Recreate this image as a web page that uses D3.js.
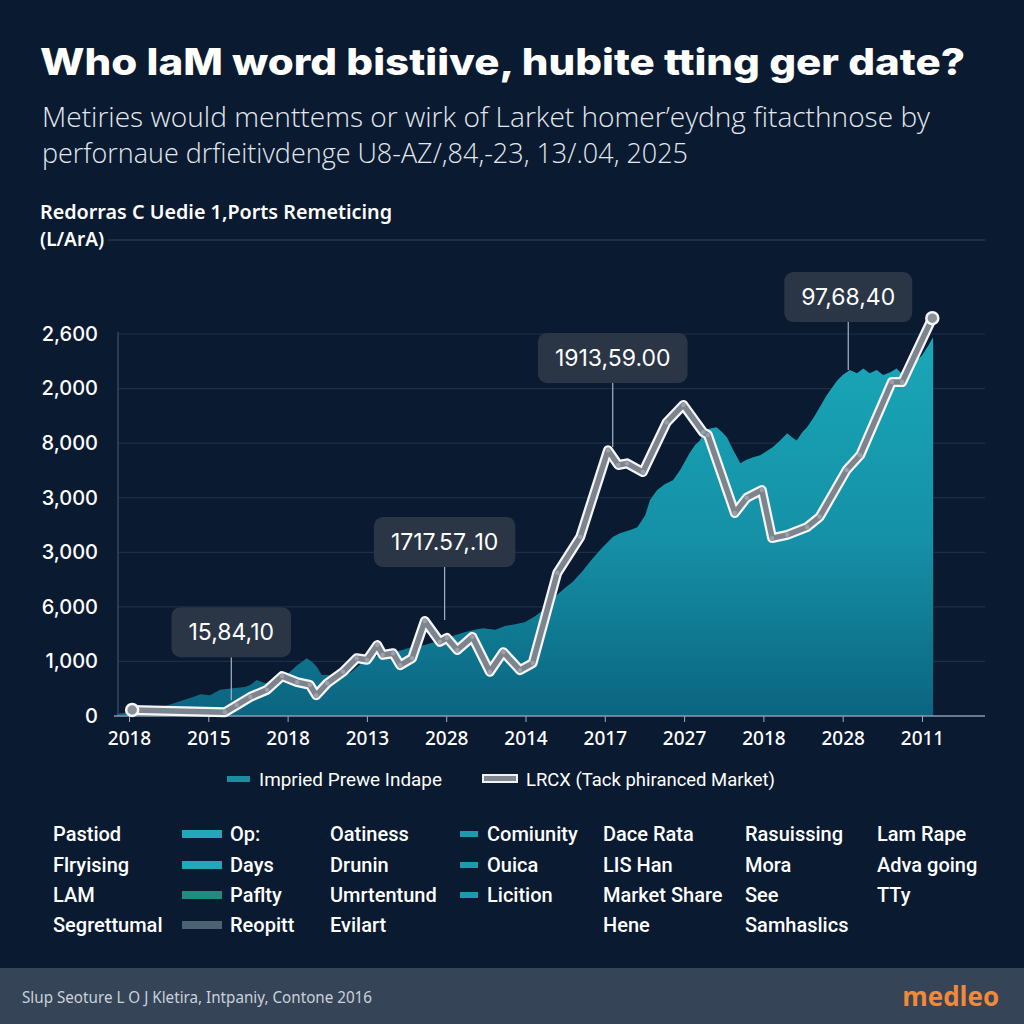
<!DOCTYPE html>
<html><head><meta charset="utf-8">
<script src="https://cdn.jsdelivr.net/npm/d3@7"></script>
<style>body{margin:0;background:#0a1a30;}svg{display:block}</style>
</head><body>
<svg id="chart" width="1024" height="1024"></svg>
<script>
// ---------------- DATA ----------------
const xTickLabels = ["2018","2015","2018","2013","2028","2014","2017","2027","2018","2028","2011"];
const yTickLabels = ["0","1,000","6,000","3,000","3,000","8,000","2,000","2,600"];

// LRCX line (x = position along the year axis, y = value in axis units)
const lineX = [0.04,1.21,1.36,1.53,1.74,1.93,2.12,2.28,2.36,2.50,2.70,2.87,3.00,3.13,3.20,3.33,3.42,3.57,3.73,3.92,4.01,4.14,4.33,4.55,4.72,4.93,5.09,5.40,5.69,6.04,6.17,6.28,6.48,6.78,6.99,7.24,7.30,7.64,7.79,7.98,8.11,8.30,8.55,8.71,9.05,9.22,9.62,9.75,10.13];
const lineY = [0.11,0.07,0.20,0.35,0.48,0.73,0.62,0.57,0.38,0.60,0.81,1.06,1.03,1.30,1.12,1.15,0.93,1.06,1.74,1.36,1.43,1.21,1.45,0.81,1.17,0.84,0.97,2.62,3.28,4.87,4.60,4.63,4.47,5.38,5.70,5.20,5.15,3.72,4.00,4.14,3.26,3.32,3.46,3.65,4.51,4.78,6.12,6.12,7.29];

// Implied Prewe Indape area
const areaX = [-0.15,0.01,0.39,0.81,0.90,1.02,1.15,1.31,1.46,1.53,1.61,1.72,1.87,1.97,2.12,2.18,2.24,2.31,2.37,2.43,2.53,2.79,2.98,3.17,3.35,3.54,3.73,3.92,4.11,4.24,4.36,4.46,4.62,4.74,4.87,4.99,5.12,5.22,5.31,5.40,5.50,5.59,5.71,5.81,5.94,6.10,6.19,6.32,6.41,6.51,6.57,6.66,6.76,6.86,6.95,7.07,7.14,7.20,7.26,7.33,7.41,7.48,7.54,7.62,7.71,7.78,7.87,7.96,8.03,8.12,8.21,8.30,8.36,8.42,8.49,8.55,8.63,8.71,8.80,8.93,9.00,9.09,9.18,9.26,9.34,9.43,9.51,9.60,9.68,9.76,9.85,9.91,10.00,10.08,10.14];
const areaY = [0.04,0.07,0.15,0.35,0.40,0.38,0.48,0.51,0.53,0.57,0.66,0.60,0.66,0.73,0.93,0.99,1.06,0.99,0.90,0.75,0.75,0.79,1.03,1.12,1.17,1.25,1.30,1.39,1.48,1.54,1.58,1.61,1.58,1.65,1.68,1.72,1.83,1.94,2.09,2.22,2.35,2.45,2.64,2.82,3.04,3.28,3.35,3.41,3.46,3.68,3.96,4.14,4.25,4.32,4.51,4.82,4.97,5.05,5.24,5.27,5.29,5.20,5.11,4.87,4.63,4.69,4.74,4.78,4.84,4.93,5.05,5.18,5.11,5.05,5.20,5.29,5.46,5.66,5.88,6.15,6.25,6.34,6.28,6.37,6.28,6.34,6.25,6.30,6.37,6.25,6.41,6.48,6.61,6.79,6.94];

// Annotations
const annLabels = ["15,84,10","1717.57,.10","1913,59.00","97,68,40"];
const annX = [1.29,3.98,6.10,9.07];
const annY = [0.29,1.76,4.93,6.34];

// Legend / table texts
const legendLabels = ["Impried Prewe Indape","LRCX (Tack phiranced Market)"];
const tableCol1 = ["Pastiod","Flryising","LAM","Segrettumal"];
const tableCol2 = ["Op:","Days","Paflty","Reopitt"];
const tableCol3 = ["Oatiness","Drunin","Umrtentund","Evilart"];
const tableCol4 = ["Comiunity","Ouica","Licition"];
const tableCol5 = ["Dace Rata","LIS Han","Market Share","Hene"];
const tableCol6 = ["Rasuissing","Mora","See","Samhaslics"];
const tableCol7 = ["Lam Rape","Adva going","TTy"];

// ---------------- LAYOUT ----------------
const svg = d3.select("#chart");
const BG = "#0a1a30";
svg.append("rect").attr("width",1024).attr("height",1024).attr("fill",BG);

const x = d3.scaleLinear().domain([0,10]).range([129,922]);
const y = d3.scaleLinear().domain([0,7]).range([716,334]);
const plotL = 118, plotR = 985;

function fitText(sel, w){ sel.attr("textLength", w).attr("lengthAdjust","spacingAndGlyphs"); return sel; }

// Title & subtitle
fitText(svg.append("text").attr("x",40).attr("y",75).attr("fill","#fff")
  .attr("font-family","Inter, 'Open Sans', sans-serif").attr("font-weight",800).attr("font-size",37)
  .text("Who laM word bistiive, hubite tting ger date?"), 925);
fitText(svg.append("text").attr("x",42).attr("y",127).attr("fill","#e3e8ef")
  .attr("font-family","'Open Sans', 'Noto Sans', sans-serif").attr("font-weight",300).attr("font-size",28)
  .text("Metiries would menttems or wirk of Larket homer\u2019eydng fitacthnose by"), 888);
fitText(svg.append("text").attr("x",42).attr("y",163).attr("fill","#e3e8ef")
  .attr("font-family","'Open Sans', 'Noto Sans', sans-serif").attr("font-weight",300).attr("font-size",28)
  .text("perfornaue drfieitivdenge U8-AZ/,84,-23, 13/.04, 2025"), 646);

// Axis title
fitText(svg.append("text").attr("x",40).attr("y",219).attr("fill","#fff")
  .attr("font-family","'Noto Sans', sans-serif").attr("font-weight",600).attr("font-size",19)
  .text("Redorras C Uedie 1,Ports Remeticing"), 352);
svg.append("text").attr("x",40).attr("y",246).attr("fill","#fff")
  .attr("font-family","'Noto Sans', sans-serif").attr("font-weight",600).attr("font-size",19)
  .text("(L/ArA)");
svg.append("line").attr("x1",108).attr("x2",plotR).attr("y1",240).attr("y2",240)
  .attr("stroke","#1e3049").attr("stroke-width",2);

// Gridlines
const yTicks = d3.range(0, yTickLabels.length);
svg.append("g").selectAll("line").data(yTicks.slice(1)).join("line")
  .attr("x1",plotL).attr("x2",plotR).attr("y1",d=>y(d)).attr("y2",d=>y(d))
  .attr("stroke","#1d2f47").attr("stroke-width",1.2);

// Y axis
const yAxis = d3.axisLeft(y).tickValues(yTicks).tickFormat(d=>yTickLabels[d]).tickSize(0).tickPadding(0);
const gy = svg.append("g").attr("transform",`translate(${plotL-20},0)`).call(yAxis);
gy.select(".domain").remove();
gy.selectAll("text").attr("fill","#fff").attr("font-family","Inter, sans-serif").attr("font-weight",500).attr("font-size",20);
svg.append("line").attr("x1",plotL).attr("x2",plotL).attr("y1",332).attr("y2",716).attr("stroke","#34465e").attr("stroke-width",1.5);

// Area
const defs = svg.append("defs");
const grad = defs.append("linearGradient").attr("id","ag").attr("x1",0).attr("y1",0).attr("x2",0).attr("y2",1)
  .attr("gradientUnits","userSpaceOnUse").attr("x1",0).attr("x2",0).attr("y1",330).attr("y2",716);
grad.append("stop").attr("offset",0).attr("stop-color","#19a8b8");
grad.append("stop").attr("offset",0.55).attr("stop-color","#1590a6");
grad.append("stop").attr("offset",1).attr("stop-color","#0b6480");
const areaData = areaX.map((d,i)=>[d, areaY[i]]);
svg.append("path").datum(areaData)
  .attr("d", d3.area().x(d=>x(d[0])).y0(y(0)).y1(d=>y(d[1])))
  .attr("fill","url(#ag)");

// X axis
const xAxis = d3.axisBottom(x).tickValues(d3.range(0,xTickLabels.length)).tickFormat(d=>xTickLabels[d]).tickSize(6).tickPadding(10);
const gx = svg.append("g").attr("transform",`translate(0,${y(0)})`).call(xAxis);
gx.select(".domain").remove();
gx.selectAll(".tick line").attr("stroke","#9fb0c2");
gx.selectAll("text").attr("fill","#fff").attr("font-family","'Noto Sans', sans-serif").attr("font-weight",500).attr("font-size",19);
svg.append("line").attr("x1",plotL-4).attr("x2",plotR).attr("y1",y(0)).attr("y2",y(0)).attr("stroke","#8a9bb0").attr("stroke-width",1.5);

// Annotations (leader + box)
const leaderLen = [43,53,64,48];
annLabels.forEach((lab,i)=>{
  const ax = x(annX[i]), ay = y(annY[i]);
  const boxBottom = ay - leaderLen[i];
  svg.append("line").attr("x1",ax).attr("x2",ax).attr("y1",boxBottom).attr("y2",ay)
    .attr("stroke","#a8b4c2").attr("stroke-width",1.2);
  const t = svg.append("text").attr("x",ax).attr("y",boxBottom-25).attr("text-anchor","middle")
    .attr("dominant-baseline","central").attr("fill","#fff")
    .attr("font-family","Inter, sans-serif").attr("font-size",23).attr("font-weight",400).text(lab);
  const w = t.node().getComputedTextLength() + 34;
  svg.insert("rect", () => t.node()).attr("x",ax-w/2).attr("y",boxBottom-50).attr("width",w).attr("height",50)
    .attr("rx",9).attr("fill","#2a3546");
});

// LRCX line
const lineData = lineX.map((d,i)=>[d, lineY[i]]);
const lineGen = d3.line().x(d=>x(d[0])).y(d=>y(d[1]));
svg.append("path").datum(lineData).attr("d",lineGen).attr("fill","none")
  .attr("stroke","#f4f6f8").attr("stroke-width",10).attr("stroke-linejoin","round").attr("stroke-linecap","round");
svg.append("path").datum(lineData).attr("d",lineGen).attr("fill","none")
  .attr("stroke","#7d848e").attr("stroke-width",5.5).attr("stroke-linejoin","round").attr("stroke-linecap","round");
svg.append("g").selectAll("circle").data(lineData.slice(1,-1)).join("circle")
  .attr("cx",d=>x(d[0])).attr("cy",d=>y(d[1])).attr("r",2.2).attr("fill","#9aa1aa");
[lineData[0], lineData[lineData.length-1]].forEach(d=>{
  svg.append("circle").attr("cx",x(d[0])).attr("cy",y(d[1])).attr("r",6)
    .attr("fill","#8a9099").attr("stroke","#f4f6f8").attr("stroke-width",2.5);
});

// Legend
const lg = svg.append("g");
lg.append("rect").attr("x",227).attr("y",776).attr("width",23).attr("height",6).attr("fill","#1c8c9e");
fitText(lg.append("text").attr("x",259).attr("y",786).attr("fill","#fff")
  .attr("font-family","Roboto, sans-serif").attr("font-size",19).text(legendLabels[0]), 183);
lg.append("rect").attr("x",482).attr("y",774).attr("width",36).attr("height",9).attr("fill","#f0f2f5");
lg.append("rect").attr("x",484).attr("y",776).attr("width",32).attr("height",5).attr("fill","#80878f");
fitText(lg.append("text").attr("x",526).attr("y",786).attr("fill","#fff")
  .attr("font-family","Roboto, sans-serif").attr("font-size",19).text(legendLabels[1]), 249);

// Table
const rowY = [834,865,895,925];
const tfont = "Roboto, sans-serif";
function col(arr, xpos){
  svg.append("g").selectAll("text").data(arr).join("text")
    .attr("x",xpos).attr("y",(d,i)=>rowY[i]+7).attr("fill","#fff")
    .attr("font-family",tfont).attr("font-weight",500).attr("font-size",20).text(d=>d);
}
col(tableCol1,53); col(tableCol2,230); col(tableCol3,330); col(tableCol4,487);
col(tableCol5,603); col(tableCol6,745); col(tableCol7,877);
const sw2 = ["#22a8ba","#22a8ba","#1f8c80","#4b6273"];
svg.append("g").selectAll("rect").data(tableCol2).join("rect")
  .attr("x",182).attr("y",(d,i)=>rowY[i]-4).attr("width",40).attr("height",8).attr("fill",(d,i)=>sw2[i]);
svg.append("g").selectAll("rect").data(tableCol4).join("rect")
  .attr("x",460).attr("y",(d,i)=>rowY[i]-3).attr("width",18).attr("height",6).attr("fill","#1d9aad");

// Footer
svg.append("rect").attr("x",0).attr("y",968).attr("width",1024).attr("height",56).attr("fill","#364457");
fitText(svg.append("text").attr("x",22).attr("y",1003).attr("fill","#c9d1db")
  .attr("font-family","'Noto Sans', sans-serif").attr("font-size",16).text("Slup Seoture L O J Kletira, Intpaniy, Contone 2016"), 350);
svg.append("text").attr("x",999).attr("y",1006).attr("text-anchor","end").attr("fill","#f2893a")
  .attr("font-family","'Open Sans', sans-serif").attr("font-weight",700).attr("font-size",26).text("medleo");
</script>
</body></html>
